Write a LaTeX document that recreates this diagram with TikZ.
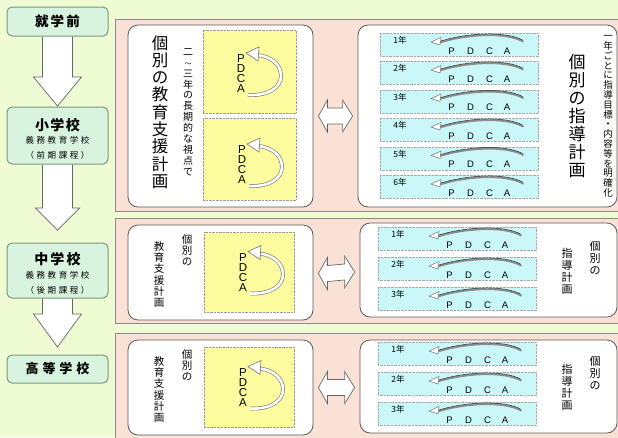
\documentclass[tikz,border=0pt]{standalone}
\usepackage{fontspec}
\setmainfont{Noto Sans CJK JP}
\newfontfamily\latinfont{Liberation Sans}
\usetikzlibrary{calc,backgrounds}
\definecolor{bgc}{HTML}{EFFBD2}
\definecolor{salmon}{HTML}{F9E2D5}
\definecolor{mint}{HTML}{D8F3DE}
\definecolor{mintline}{HTML}{779A7D}
\definecolor{ylw}{HTML}{FDFC9E}
\definecolor{cyn}{HTML}{CAF8F8}
\definecolor{edgec}{HTML}{8A8A8A}
\newcommand\mkbox[7][]{\node[#1, minimum width={#5-#3}, minimum height={#6-#4}, inner sep=0] (#2) at ({(#3+#5)/2},{(#4+#6)/2}) {#7};}
\tikzset{
 stage/.style={draw=mintline, line width=1pt, fill=mint, rounded corners=5pt},
 panel/.style={draw=edgec, line width=0.8pt, fill=salmon},
 wbox/.style={draw=black!65, line width=0.8pt, fill=white, rounded corners=10pt},
 ybox/.style={draw=black!40, densely dotted, fill=ylw},
 cbox/.style={draw=black!35, densely dotted, fill=cyn, minimum width=158pt, minimum height=23pt, inner sep=0, anchor=north west},
 blockarrow/.style={draw=black!60, fill=white, line width=0.7pt, line join=miter},
 vtext/.style={align=center, inner sep=0},
 stagetitle/.style={inner sep=0, font=\fontsize{13.5}{14}\selectfont\bfseries\addfontfeature{LetterSpace=15}},
 stagesub/.style={inner sep=0, font=\fontsize{8.5}{9}\selectfont\addfontfeature{LetterSpace=30}},
 pletter/.style={inner sep=0, font=\fontsize{11.5}{12}\selectfont\latinfont},
 rletter/.style={inner sep=0, font=\fontsize{9.5}{10}\selectfont\latinfont},
 yrtext/.style={inner sep=0, font=\fontsize{8.5}{9}\selectfont},
 loopband/.style={draw=black!55, double=white, double distance=2.6pt, line width=0.6pt},
 loophead/.style={draw=black!55, fill=white, line width=0.6pt, line join=miter},
 rowband/.style={draw=black!45, line width=1.8pt, line cap=round},
 rowedge/.style={draw=black!85, line width=0.5pt},
 rowhead/.style={draw=black!55, fill=white, line width=0.5pt},
 pdcaloop/.pic={
  \node[pletter] (-p) at (0,-15) {P};
  \node[pletter] (-d) at (0,-5) {D};
  \node[pletter] (-c) at (0,5) {C};
  \node[pletter] (-a) at (0,15) {A};
  \draw[loopband] (7,21) .. controls (28,22) and (40,13) .. (40,2) .. controls (40,-9) and (31,-17) .. (17,-19);
  \draw[loophead] (5,-21) -- (18,-27) -- (17,-13) -- cycle;
 },
 yearrow/.pic={
  \node[cbox] (-box) at (0,0) {};
  \node[yrtext] (-yr) at (20,7.5) {#1};
  \node[rletter] (-p) at (71.5,18) {P};
  \node[rletter] (-d) at (90.5,18) {D};
  \node[rletter] (-c) at (109.5,18) {C};
  \node[rletter] (-a) at (127,18) {A};
  \draw[rowband] (60,9.5) .. controls (85,1.5) and (125,-1.5) .. (143,8.5);
  \draw[rowedge] (60,8.3) .. controls (85,0.3) and (125,-2.7) .. (143,7.3);
  \draw[rowhead] (51,9) -- (61,4.5) -- (60,12) -- cycle;
 }
}
\begin{document}
\begin{tikzpicture}[x=1pt,y=-1pt]
\useasboundingbox (0,0) rectangle (618,437);
\begin{scope}[on background layer]
\fill[bgc] (0,0) rectangle (618,437);
\end{scope}
% left column
\mkbox[stage]{pre}{7}{7}{108}{36}{}
\mkbox[stage]{elem}{7}{107}{108}{164}{}
\mkbox[stage]{jhs}{7}{243}{108}{298}{}
\mkbox[stage]{hs}{7}{355}{108}{383}{}
\node[stagetitle] (preT) at (57.5,21.5) {就学前};
\node[stagetitle, font=\fontsize{14}{15}\selectfont\bfseries\addfontfeature{LetterSpace=10}] (elemT) at (57.5,125) {小学校};
\node[stagesub] (elemS1) at (57.5,140) {義務教育学校};
\node[stagesub] (elemS2) at (57.5,155) {（前期課程）};
\node[stagetitle, font=\fontsize{14}{15}\selectfont\bfseries\addfontfeature{LetterSpace=15}] (jhsT) at (57.5,259) {中学校};
\node[stagesub] (jhsS1) at (57.5,275) {義務教育学校};
\node[stagesub] (jhsS2) at (57.5,290) {（後期課程）};
\node[stagetitle, font=\fontsize{13}{14}\selectfont\bfseries\addfontfeature{LetterSpace=30}] (hsT) at (57.5,369) {高等学校};
\coordinate (tip1) at (57.5,106);
\coordinate (tip2) at (57.5,230);
\coordinate (tip3) at (57.5,347);
\begin{scope}[on background layer]
\draw[blockarrow] ($(pre.south)+(-15,0)$) -- ($(tip1)+(-15,-29)$) -- ($(tip1)+(-24,-29)$) -- (tip1) -- ($(tip1)+(24,-29)$) -- ($(tip1)+(15,-29)$) -- ($(pre.south)+(15,0)$);
\fill[white] ($(pre.south)+(-14.6,0)$) rectangle ($(tip1)+(14.6,-29.4)$);
\draw[blockarrow] ($(elem.south)+(-15,0)$) -- ($(tip2)+(-15,-22)$) -- ($(tip2)+(-22,-22)$) -- (tip2) -- ($(tip2)+(22,-22)$) -- ($(tip2)+(15,-22)$) -- ($(elem.south)+(15,0)$);
\fill[white] ($(elem.south)+(-14.6,0)$) rectangle ($(tip2)+(14.6,-22.4)$);
\draw[blockarrow] ($(jhs.south)+(-15,0)$) -- ($(tip3)+(-15,-33)$) -- ($(tip3)+(-24,-33)$) -- (tip3) -- ($(tip3)+(24,-33)$) -- ($(tip3)+(15,-33)$) -- ($(jhs.south)+(15,0)$);
\fill[white] ($(jhs.south)+(-14.6,0)$) rectangle ($(tip3)+(14.6,-33.4)$);
\end{scope}
% panels
\mkbox[panel]{p1}{115}{19}{625}{211}{}
\mkbox[panel]{p2}{115}{218}{625}{323}{}
\mkbox[panel]{p3}{115}{333}{625}{445}{}
% panel 1
\mkbox[wbox]{l1}{128}{25}{313}{207}{}
\mkbox[ybox]{y1a}{203}{30}{296}{113}{}
\mkbox[ybox]{y1b}{203}{118}{296}{200}{}
\node[vtext, font=\fontsize{16.5}{17.3}\selectfont] (l1T) at (160,112) {個\\別\\の\\教\\育\\支\\援\\計\\画};
\node[vtext, font=\fontsize{10}{10.9}\selectfont] (l1S) at (188,112) {二\\{\fontsize{7}{7}\selectfont ～}\\三\\年\\の\\長\\期\\的\\な\\視\\点\\で};
\pic (c1a) at (241,74) {pdcaloop};
\pic (c1b) at (242,165) {pdcaloop};
\mkbox[wbox]{r1}{358}{25}{617}{207}{}
\pic (r1y1) at (380,33) {yearrow={1年}};
\pic (r1y2) at (380,61) {yearrow={2年}};
\pic (r1y3) at (380,89.5) {yearrow={3年}};
\pic (r1y4) at (380,118) {yearrow={4年}};
\pic (r1y5) at (380,146.5) {yearrow={5年}};
\pic (r1y6) at (380,175) {yearrow={6年}};
\node[vtext, font=\fontsize{17}{18}\selectfont] (r1T) at (577,116.5) {個\\別\\の\\指\\導\\計\\画};
\node[vtext, font=\fontsize{9.5}{9.8}\selectfont] (r1S) at (608,116.5) {一\\年\\ご\\と\\に\\指\\導\\目\\標\\・\\内\\容\\等\\を\\明\\確\\化};
\coordinate (da1) at ($(l1.east)+(5,0)$);
\coordinate (db1) at ($(r1.west)+(-5,0)$);
\draw[blockarrow] (da1) -- ($(da1)+(9,-16)$) -- ($(da1)+(9,-8)$) -- ($(db1)+(-10,-8)$) -- ($(db1)+(-10,-16)$) -- (db1) -- ($(db1)+(-10,16)$) -- ($(db1)+(-10,8)$) -- ($(da1)+(9,8)$) -- ($(da1)+(9,16)$) -- cycle;
% panel 2
\mkbox[wbox]{l2}{128}{225}{313}{320}{}
\mkbox[ybox]{y2}{204}{232}{294}{312}{}
\node[vtext, font=\fontsize{10.5}{11.2}\selectfont] (l2A) at (187,250) {個\\別\\の};
\node[vtext, font=\fontsize{10.5}{11.2}\selectfont] (l2B) at (159,274.5) {教\\育\\支\\援\\計\\画};
\pic (c2) at (243,272.5) {pdcaloop};
\mkbox[wbox]{r2}{360}{223}{617}{317}{}
\pic (r2y1) at (378,227) {yearrow={1年}};
\pic (r2y2) at (378,257) {yearrow={2年}};
\pic (r2y3) at (378,287) {yearrow={3年}};
\node[vtext, font=\fontsize{11}{12}\selectfont] (r2A) at (595,258) {個\\別\\の};
\node[vtext, font=\fontsize{11}{12}\selectfont] (r2B) at (567,271.5) {指\\導\\計\\画};
\coordinate (da2) at ($(l2.east)+(5,1)$);
\coordinate (db2) at ($(r2.west)+(-5,2)$);
\draw[blockarrow] (da2) -- ($(da2)+(9,-16)$) -- ($(da2)+(9,-8)$) -- ($(db2)+(-10,-8)$) -- ($(db2)+(-10,-16)$) -- (db2) -- ($(db2)+(-10,16)$) -- ($(db2)+(-10,8)$) -- ($(da2)+(9,8)$) -- ($(da2)+(9,16)$) -- cycle;
% panel 3
\mkbox[wbox]{l3}{128}{340}{313}{435}{}
\mkbox[ybox]{y3}{204}{347}{294}{427}{}
\node[vtext, font=\fontsize{10.5}{11.2}\selectfont] (l3A) at (187,365) {個\\別\\の};
\node[vtext, font=\fontsize{10.5}{11.2}\selectfont] (l3B) at (159,389.5) {教\\育\\支\\援\\計\\画};
\pic (c3) at (243,387.5) {pdcaloop};
\mkbox[wbox]{r3}{360}{340}{617}{433}{}
\pic (r3y1) at (378,342) {yearrow={1年}};
\pic (r3y2) at (378,372) {yearrow={2年}};
\pic (r3y3) at (378,402) {yearrow={3年}};
\node[vtext, font=\fontsize{11}{12}\selectfont] (r3A) at (595,373) {個\\別\\の};
\node[vtext, font=\fontsize{11}{12}\selectfont] (r3B) at (567,387.5) {指\\導\\計\\画};
\coordinate (da3) at ($(l3.east)+(5,0)$);
\coordinate (db3) at ($(r3.west)+(-5,1)$);
\draw[blockarrow] (da3) -- ($(da3)+(9,-16)$) -- ($(da3)+(9,-8)$) -- ($(db3)+(-10,-8)$) -- ($(db3)+(-10,-16)$) -- (db3) -- ($(db3)+(-10,16)$) -- ($(db3)+(-10,8)$) -- ($(da3)+(9,8)$) -- ($(da3)+(9,16)$) -- cycle;
\end{tikzpicture}
\end{document}
